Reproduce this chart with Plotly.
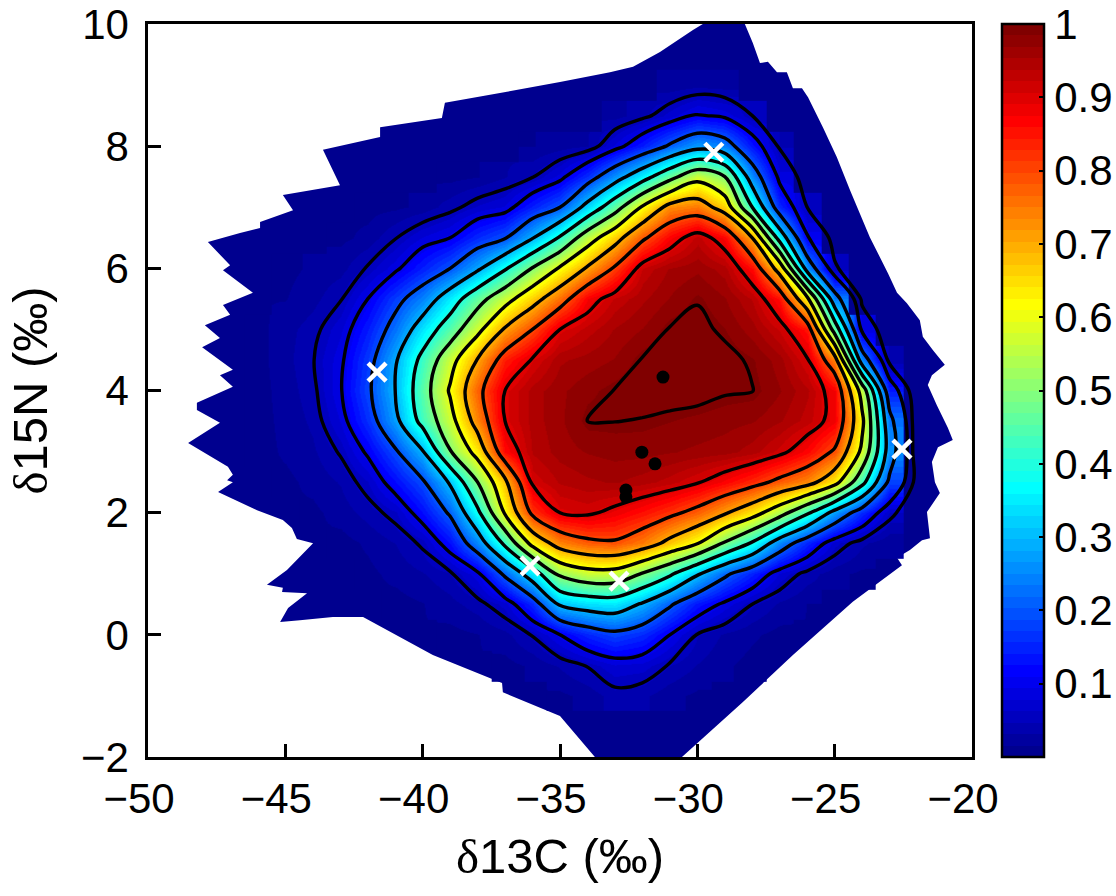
import plotly.graph_objects as go

x_ticks = [-50, -45, -40, -35, -30, -25, -20]
y_ticks = [-2, 0, 2, 4, 6, 8, 10]
cbar_ticks = [0.1, 0.2, 0.3, 0.4, 0.5, 0.6, 0.7, 0.8, 0.9, 1]
cbar_labels = ["0.1", "0.2", "0.3", "0.4", "0.5", "0.6", "0.7", "0.8", "0.9", "1"]

grid_x = list(range(-47, -19))
grid_y = [-1, -0.5, 0, 0.5, 1, 1.5, 2, 2.5, 3, 3.5, 4, 4.5, 5, 5.5, 6, 6.5, 7, 7.5, 8, 8.5, 9]

# each row: x of its first read value, then the values
row_m1_0 = (-35, [.012, .02, .04, .035, .02, .012])
row_m0_5 = (-37, [.01, .018, .033, .052, .075, .07, .047, .03, .018, .01])
row_0_0 = (-39, [.01, .015, .025, .052, .10, .15, .18, .155, .10, .048, .028, .018, .01])
row_0_5 = (-41, [.01, .015, .025, .04, .07, .155, .31, .34, .35, .29, .21, .135, .09, .05, .028, .015, .01])
row_1_0 = (-42, [.012, .02, .03, .045, .09, .215, .35, .52, .565, .565, .495, .415, .31, .215, .145, .075, .04, .02, .012])
row_1_5 = (-43, [.01, .018, .032, .055, .125, .25, .42, .63, .74, .78, .79, .75, .675, .605, .49, .39, .25, .15, .07, .035, .018, .01])
row_2_0 = (-44, [.012, .022, .038, .06, .125, .21, .38, .61, .82, .90, .91, .885, .855, .82, .775, .71, .64, .54, .415, .27, .155, .06, .02, .01])
row_2_5 = (-45, [.012, .02, .033, .062, .125, .19, .31, .50, .68, .91, .94, .95, .955, .945, .93, .905, .87, .83, .78, .735, .635, .43, .18, .03, .01])
row_3_0 = (-46, [.01, .018, .028, .053, .108, .19, .295, .495, .635, .86, .94, .96, .97, .975, .975, .97, .965, .96, .945, .915, .865, .79, .58, .255, .012, .008])
row_3_5 = (-46, [.01, .02, .035, .08, .16, .275, .43, .565, .74, .90, .945, .965, .9902, .9904, .989, .985, .98, .975, .97, .955, .93, .88, .62, .23, .012, .008])
row_4_0 = (-46, [.01, .022, .042, .095, .185, .30, .455, .61, .775, .90, .945, .965, .98, .991, .998, 1, 1, .993, .991, .97, .94, .875, .56, .14, .012, .01])
row_4_5 = (-46, [.01, .025, .048, .09, .17, .29, .425, .565, .705, .84, .905, .95, .96, .97, .992, .997, 1, .998, .986, .96, .905, .74, .25, .035, .012, .008])
row_5_0 = (-46, [.01, .025, .04, .075, .14, .23, .345, .45, .575, .71, .80, .90, .93, .955, .97, .992, .9975, .985, .96, .92, .85, .46, .085, .02, .012])
row_5_5 = (-45, [.015, .025, .047, .10, .175, .245, .35, .465, .565, .665, .76, .875, .925, .95, .97, .988, .97, .935, .855, .62, .24, .04, .015, .01])
row_6_0 = (-45, [.012, .018, .025, .053, .09, .145, .2, .285, .39, .505, .61, .71, .81, .925, .955, .965, .945, .86, .66, .26, .055, .02, .012])
row_6_5 = (-43, [.012, .02, .048, .08, .10, .155, .195, .295, .41, .555, .665, .785, .87, .93, .87, .70, .36, .105, .035, .015])
row_7_0 = (-42, [.01, .012, .02, .04, .065, .08, .145, .2, .33, .46, .61, .73, .75, .66, .40, .15, .05, .02, .01])
row_7_5 = (-39, [.01, .015, .03, .048, .085, .16, .26, .36, .47, .57, .50, .25, .085, .03, .012])
row_8_0 = (-36, [.015, .022, .03, .08, .14, .21, .27, .24, .13, .045, .015, .01])
row_8_5 = (-33, [.025, .04, .07, .105, .09, .05, .025, .012])
row_9_0 = (-32, [.012, .02, .025, .022, .018, .01])
read_rows = [row_m1_0, row_m0_5, row_0_0, row_0_5, row_1_0, row_1_5, row_2_0, row_2_5, row_3_0, row_3_5,
             row_4_0, row_4_5, row_5_0, row_5_5, row_6_0, row_6_5, row_7_0, row_7_5, row_8_0, row_8_5, row_9_0]

# outline of the coloured region
outline_x = [-29.80, -28.27, -27.98, -27.72, -27.43, -27.10, -26.74, -26.52, -26.19, -25.97, -25.43, -24.92, -24.44,
             -23.72, -23.06, -22.73, -22.37, -21.90, -21.79, -21.42, -20.99, -21.46, -21.61, -21.28, -20.88, -20.70,
             -21.24, -21.46, -21.35, -21.17, -21.64, -21.53, -21.82, -22.26, -22.73, -22.55, -24.34, -26.52, -28.34,
             -30.56, -33.73, -35.00, -37.08, -37.11, -39.63, -42.17, -43.27, -44.47, -45.19, -44.90, -44.21, -45.12,
             -45.09, -45.67, -44.94, -43.99, -44.58, -44.76, -45.09, -46.03, -47.45, -46.91, -47.12, -46.91, -47.09,
             -48.54, -47.38, -48.22, -48.22, -46.91, -47.38, -46.91, -48.03, -47.38, -47.93, -47.01, -47.27, -46.18,
             -47.27, -47.01, -47.82, -46.65, -45.92, -45.92, -44.72, -45.09, -43.01, -43.63, -41.55, -41.55, -39.30,
             -39.19, -36.93, -35.00, -33.18, -32.34, -31.36, -30.16]
outline_y = [10.0, 10.0, 9.69, 9.36, 9.38, 9.21, 9.21, 8.95, 8.95, 8.80, 8.31, 7.82, 7.28,
             6.51, 5.92, 5.60, 5.43, 5.15, 4.88, 4.66, 4.42, 4.25, 4.09, 3.76, 3.39, 3.19,
             3.07, 2.83, 2.50, 2.32, 2.01, 1.58, 1.55, 1.39, 1.26, 1.14, 0.54, -0.33, -1.10,
             -2.0, -2.0, -1.33, -0.94, -0.79, -0.33, 0.29, 0.29, 0.24, 0.21, 0.44, 0.68, 0.70,
             0.77, 0.82, 1.06, 1.50, 1.57, 1.75, 1.88, 2.04, 2.34, 2.50, 2.53, 2.62, 2.75,
             3.14, 3.47, 3.68, 3.80, 4.06, 4.25, 4.34, 4.71, 4.86, 5.07, 5.24, 5.40, 5.60,
             5.97, 6.05, 6.43, 6.58, 6.66, 6.76, 6.95, 7.20, 7.36, 7.94, 8.15, 8.31, 8.46,
             8.71, 8.89, 9.05, 9.21, 9.30, 9.54, 9.90]

dots_x = [-31.25, -32.02, -31.54, -32.60, -32.60]
dots_y = [4.22, 2.99, 2.80, 2.37, 2.26]
cross_x = [-41.66, -29.40, -22.55, -36.09, -32.85]
cross_y = [4.30, 7.90, 3.04, 1.13, 0.88]


def pad(first, values):
    start = grid_x.index(first)
    return [None] * start + list(values) + [None] * (len(grid_x) - start - len(values))


def inside(px, py):
    hit = False
    n = len(outline_x)
    for i in range(n):
        x1, y1, x2, y2 = outline_x[i], outline_y[i], outline_x[(i + 1) % n], outline_y[(i + 1) % n]
        if (y1 > py) != (y2 > py) and px < x1 + (py - y1) / (y2 - y1) * (x2 - x1):
            hit = not hit
    return hit


z_lines = [[0 if v is None else v for v in pad(first, values)] for first, values in read_rows]
# a heatmap cell is painted only when it lies wholly in the coloured region; the rest shows the dark base
z = []
for j, r in enumerate(z_lines):
    z.append([v if v > 0 and inside(grid_x[i], grid_y[j]) and inside(grid_x[i] + 1, grid_y[j])
              and inside(grid_x[i], grid_y[j] + 0.5) and inside(grid_x[i] + 1, grid_y[j] + 0.5) else None
              for i, v in enumerate(r)])


def clip(v):
    return max(0.0, min(1.0, v))


jet = []
for i in range(64):
    t = (i + 1) / 64
    r = clip(min(4 * t - 1.5, -4 * t + 4.5))
    g = clip(min(4 * t - 0.5, -4 * t + 3.5))
    b = clip(min(4 * t + 0.5, -4 * t + 2.5))
    col = f"rgb({round(r * 255)},{round(g * 255)},{round(b * 255)})"
    jet.append([i / 64, col])
    jet.append([(i + 1) / 64, col])

FONT = "Liberation Sans, Arial, sans-serif"
BIG = 42
TITLE = 49
BAR_LEFT = 854 / 824

fig = go.Figure()
fig.add_trace(go.Heatmap(
    x=grid_x, y=grid_y, z=z, zmin=0, zmax=1, zsmooth="best", colorscale=jet, hoverinfo="skip",
    colorbar=dict(
        thicknessmode="pixels", thickness=42, lenmode="fraction", len=1, x=BAR_LEFT, xanchor="left",
        xpad=0, y=0, yanchor="bottom", ypad=0, outlinecolor="black", outlinewidth=2.5,
        ticks="inside", ticklen=6, tickwidth=2, tickcolor="black", tickvals=cbar_ticks, ticktext=cbar_labels,
        tickfont=dict(family=FONT, size=BIG, color="black"), ticklabelposition="outside", ticklabeloverflow="allow",
    ),
))
for start, end, size in [(0.05, 0.05, 1), (0.1, 0.9, 0.1), (0.99, 0.99, 1)]:
    fig.add_trace(go.Contour(
        x=grid_x, y=grid_y, z=z_lines, autocontour=False, showscale=False, hoverinfo="skip",
        contours=dict(coloring="none", start=start, end=end, size=size),
        line=dict(color="black", width=3.4, smoothing=1),
    ))
fig.add_trace(go.Scatter(x=dots_x, y=dots_y, mode="markers", hoverinfo="skip",
                         marker=dict(color="black", size=13), showlegend=False))
fig.add_trace(go.Scatter(x=cross_x, y=cross_y, mode="markers", hoverinfo="skip", showlegend=False,
                         marker=dict(symbol="x-thin", size=18, line=dict(color="white", width=4.5))))

path = "M " + " L ".join(f"{a} {b}" for a, b in zip(outline_x, outline_y)) + " Z"
fig.add_shape(type="path", path=path, xref="x", yref="y", layer="below",
              fillcolor="#00008f", line=dict(width=0))
for v in cbar_ticks[:-1]:
    fig.add_shape(type="line", xref="paper", yref="paper", x0=BAR_LEFT, x1=BAR_LEFT + 7 / 824, y0=v, y1=v,
                  line=dict(color="black", width=2))

axis = dict(showgrid=False, zeroline=False, showline=True, mirror=True, linecolor="black", linewidth=2.5,
            ticks="inside", ticklen=13, tickwidth=2.5, tickcolor="black", ticklabeloverflow="allow",
            tickfont=dict(family=FONT, size=BIG, color="black"))
delta = "<span style=\"font-family:'Liberation Serif'\">δ</span>"
fig.update_layout(
    width=1116, height=896, margin=dict(l=148, r=144, t=24, b=139, autoexpand=False),
    paper_bgcolor="white", plot_bgcolor="white", showlegend=False, font=dict(family=FONT),
    xaxis=dict(axis, range=[-50, -20], tickvals=x_ticks, ticklabelstandoff=3, ticklabelshift=-9,
               title=dict(text=delta + "13C (‰)", font=dict(family=FONT, size=TITLE, color="black"), standoff=18)),
    yaxis=dict(axis, range=[-2, 10], tickvals=y_ticks, ticklabelstandoff=8,
               title=dict(text=delta + "15N (‰)", font=dict(family=FONT, size=TITLE, color="black"), standoff=18)),
)
fig.write_html("out.html", post_script="document.body.style.margin='0';", config={"displayModeBar": False})
